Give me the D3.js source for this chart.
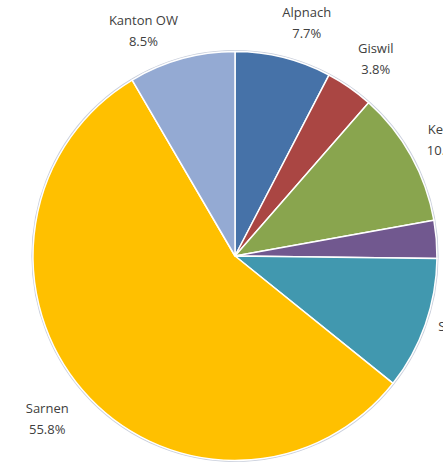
<!DOCTYPE html>
<html>
<head>
<meta charset="utf-8">
<script src="https://cdn.jsdelivr.net/npm/d3@7"></script>
<style>
  html, body { margin: 0; padding: 0; background: #fff; overflow: hidden; }
</style>
</head>
<body>
<div id="chart"></div>
<script>
const width = 443;
const height = 466;

// Data (shares in %)
const categories = ["Alpnach", "Giswil", "Kerns", "Lungern", "Sachseln", "Sarnen", "Kanton OW"];
const shares = [7.7, 3.8, 10.7, 3.0, 10.5, 55.8, 8.5];
const colors = ["#4672a8", "#aa4643", "#89a54e", "#71588f", "#4198af", "#ffc000", "#94aad3"];

// small label nudges (Excel moves some labels sideways)
const labelNudge = [[14, 0], [4, 0], [0, 1], [0, 0], [3, -1], [-6, 4], [-28, 6]];

const cx = 235, cy = 256, R = 202;

const svg = d3.select("#chart")
    .append("svg")
    .attr("width", width)
    .attr("height", height);

const data = categories.map((c, i) => ({ name: c, value: shares[i], color: colors[i], nudge: labelNudge[i] }));

const pie = d3.pie()
    .value(d => d.value)
    .sort(null);

const arc = d3.arc()
    .innerRadius(0)
    .outerRadius(R);

const labelArc = d3.arc()
    .innerRadius(241)
    .outerRadius(241);

const g = svg.append("g")
    .attr("transform", `translate(${cx},${cy})`);

// the picture is very slightly taller than wide
const pieG = g.append("g")
    .attr("transform", "scale(1,1.012)");

// faint outer halo
pieG.append("circle")
    .attr("r", R + 0.8)
    .attr("fill", "none")
    .attr("stroke", "#c9cfdc")
    .attr("stroke-width", 1.6);

pieG.selectAll(".slice")
    .data(pie(data))
    .enter().append("path")
    .attr("class", "slice")
    .attr("d", arc)
    .attr("fill", d => d.data.color)
    .attr("stroke", "#ffffff")
    .attr("stroke-width", 1.5)
    .attr("stroke-linejoin", "round");

const labels = g.selectAll(".label")
    .data(pie(data))
    .enter().append("text")
    .attr("class", "label")
    .attr("text-anchor", "middle")
    .attr("font-family", "'Open Sans', sans-serif")
    .attr("font-size", "13px")
    .attr("fill", "#404040")
    .attr("transform", d => {
        const [x, y] = labelArc.centroid(d);
        return `translate(${x + d.data.nudge[0]},${y + d.data.nudge[1]})`;
    });

labels.append("tspan")
    .attr("x", 0)
    .attr("y", -5)
    .text(d => d.data.name);

labels.append("tspan")
    .attr("x", 0)
    .attr("y", 16)
    .text(d => d3.format(".1f")(d.data.value) + "%");
</script>
</body>
</html>
